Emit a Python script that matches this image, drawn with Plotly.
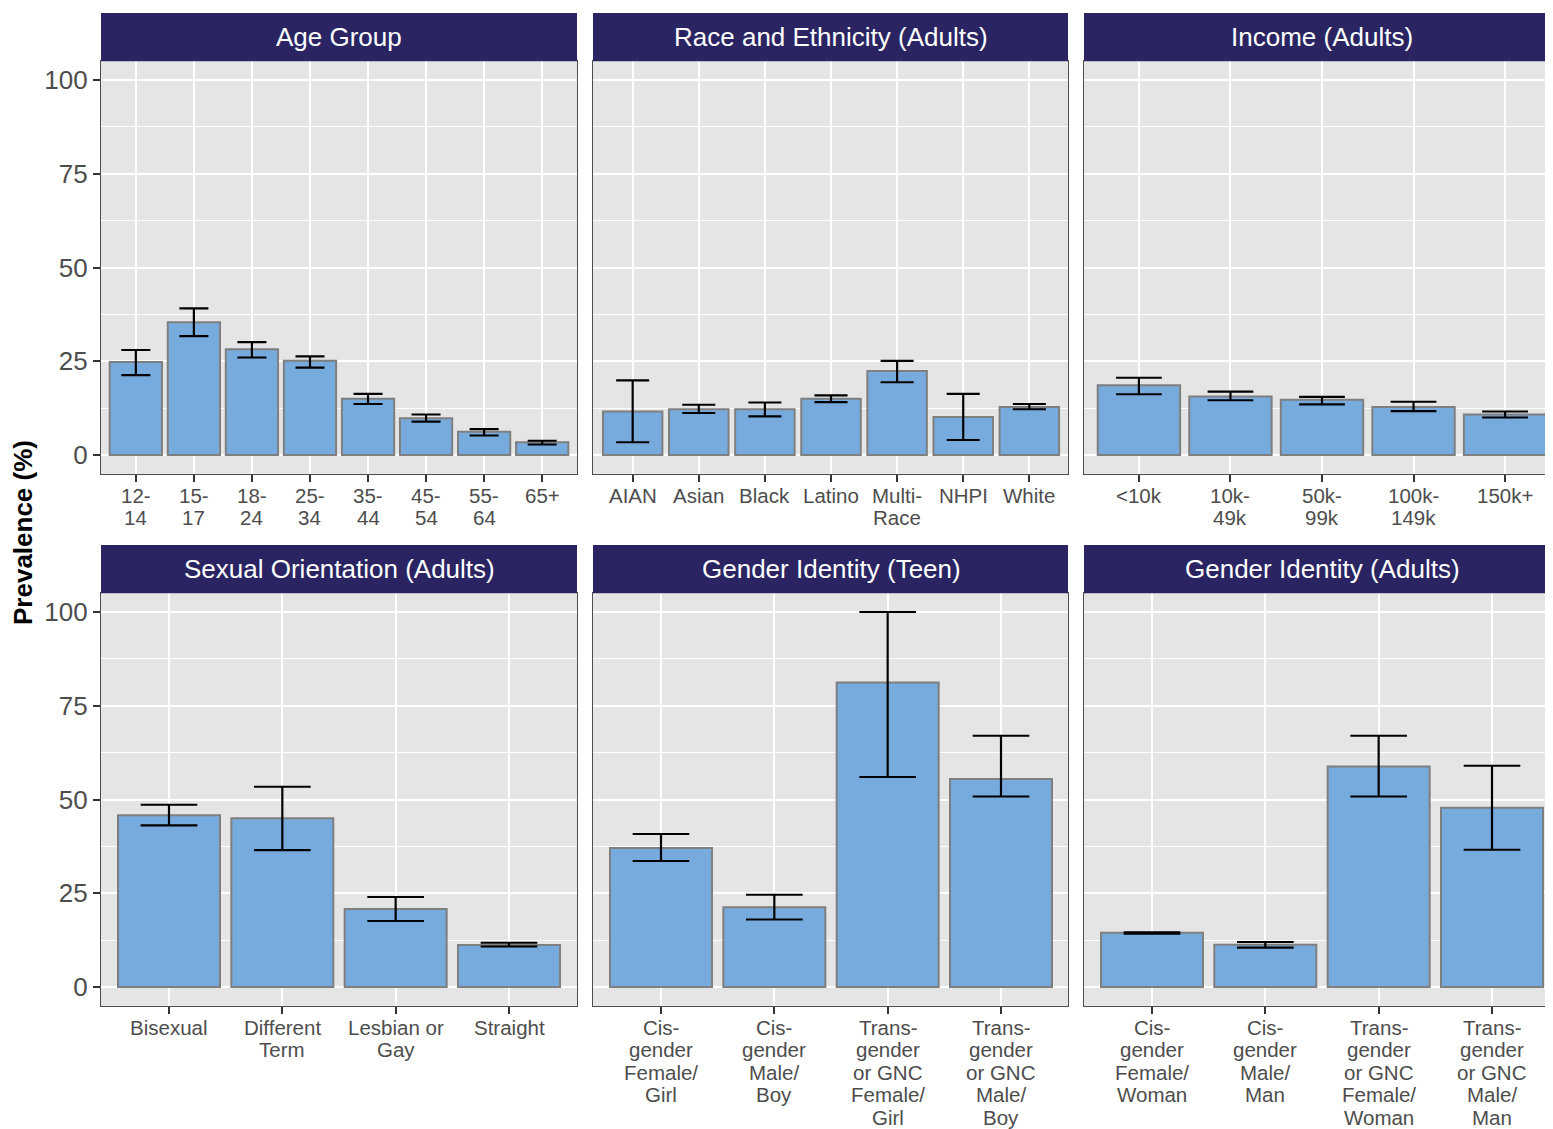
import plotly.graph_objects as go

# ---------------- data ----------------
age_cats = ["12-<br>14", "15-<br>17", "18-<br>24", "25-<br>34", "35-<br>44", "45-<br>54", "55-<br>64", "65+"]
age_val = [24.8, 35.4, 28.2, 25.1, 15.0, 9.8, 6.2, 3.4]
age_lo = [21.3, 31.7, 26.0, 23.3, 13.6, 8.9, 5.2, 2.8]
age_hi = [28.0, 39.1, 30.1, 26.3, 16.3, 10.8, 6.9, 3.8]

race_cats = ["AIAN", "Asian", "Black", "Latino", "Multi-<br>Race", "NHPI", "White"]
race_val = [11.6, 12.2, 12.2, 15.0, 22.4, 10.1, 12.8]
race_lo = [3.4, 11.2, 10.3, 14.1, 19.4, 4.0, 12.2]
race_hi = [19.9, 13.4, 14.0, 15.9, 25.1, 16.3, 13.6]

inc_cats = ["<10k", "10k-<br>49k", "50k-<br>99k", "100k-<br>149k", "150k+"]
inc_val = [18.6, 15.6, 14.7, 12.8, 10.8]
inc_lo = [16.2, 14.6, 13.5, 11.7, 10.0]
inc_hi = [20.6, 16.9, 15.5, 14.2, 11.6]

so_cats = ["Bisexual", "Different<br>Term", "Lesbian or<br>Gay", "Straight"]
so_val = [45.8, 45.0, 20.8, 11.2]
so_lo = [43.1, 36.5, 17.6, 10.8]
so_hi = [48.6, 53.4, 24.0, 11.8]

gt_cats = ["Cis-<br>gender<br>Female/<br>Girl", "Cis-<br>gender<br>Male/<br>Boy",
           "Trans-<br>gender<br>or GNC<br>Female/<br>Girl", "Trans-<br>gender<br>or GNC<br>Male/<br>Boy"]
gt_val = [37.1, 21.3, 81.2, 55.5]
gt_lo = [33.6, 18.0, 56.0, 50.8]
gt_hi = [40.8, 24.6, 100.0, 67.0]

ga_cats = ["Cis-<br>gender<br>Female/<br>Woman", "Cis-<br>gender<br>Male/<br>Man",
           "Trans-<br>gender<br>or GNC<br>Female/<br>Woman", "Trans-<br>gender<br>or GNC<br>Male/<br>Man"]
ga_val = [14.5, 11.3, 58.8, 47.8]
ga_lo = [14.2, 10.5, 50.8, 36.6]
ga_hi = [14.6, 12.0, 67.0, 59.0]

titles = ["Age Group", "Race and Ethnicity (Adults)", "Income (Adults)",
          "Sexual Orientation (Adults)", "Gender Identity (Teen)", "Gender Identity (Adults)"]
y_ticks = [0, 25, 50, 75, 100]
y_title = "Prevalence (%)"

panels = [
    (age_cats, age_val, age_lo, age_hi),
    (race_cats, race_val, race_lo, race_hi),
    (inc_cats, inc_val, inc_lo, inc_hi),
    (so_cats, so_val, so_lo, so_hi),
    (gt_cats, gt_val, gt_lo, gt_hi),
    (ga_cats, ga_val, ga_lo, ga_hi),
]

# ---------------- layout geometry (pixels in the screenshot) ----------------
W, H = 1553, 1129
OFF = 8                      # page body margin of the html page
FW, FH = W - OFF, H - OFF    # figure size so that it ends at the window edge


def px_x(px):
    return (px - OFF) / FW


def px_y(py):
    return 1 - (py - OFF) / FH


PANEL_W = 476.0
col_px = [(101, 577), (593, 1068), (1084, 1553)]
row_px = [(61.25, 473.75), (593.25, 1005.75)]
strip_px = [(13, 61.25), (545, 593.25)]
LABEL_OFFSET = 21.7   # first label line centre below panel bottom
LINE_STEP = 22.4      # label line spacing

FILL = "#77AADD"
OUTLINE = "#7F7F7F"
PANEL_BG = "#E5E5E5"
STRIP = "#2A2562"
TEXT_GREY = "#4D4D4D"
FONT = "Liberation Sans, Arial, Helvetica, sans-serif"

fig = go.Figure()
shapes = []
annotations = []

for i, (cats, val, lo, hi) in enumerate(panels):
    k = i + 1
    r, c = divmod(i, 3)
    x0, x1 = col_px[c]
    y0, y1 = row_px[r]
    n = len(cats)
    unit = PANEL_W / (n + 0.2)
    visible_frac = (x1 - x0) / PANEL_W
    x_end = -0.6 + (n + 0.2) * visible_frac
    err_plus = [h - v for h, v in zip(hi, val)]
    err_minus = [v - l for v, l in zip(val, lo)]
    xa = "x" if k == 1 else f"x{k}"
    ya = "y" if k == 1 else f"y{k}"
    fig.add_trace(go.Bar(
        x=cats, y=val, xaxis=xa, yaxis=ya, width=0.9,
        marker=dict(color=FILL, line=dict(color=OUTLINE, width=2)),
        error_y=dict(type="data", symmetric=False, array=err_plus, arrayminus=err_minus,
                     color="black", thickness=2.2, width=unit * 0.25),
        showlegend=False, hoverinfo="x+y",
    ))
    xkey = "xaxis" if k == 1 else f"xaxis{k}"
    ykey = "yaxis" if k == 1 else f"yaxis{k}"
    fig.layout[xkey] = dict(
        domain=[px_x(x0), min(1.0, px_x(x1))], anchor=ya, type="category",
        categoryorder="array", categoryarray=cats,
        range=[-0.6, x_end], showgrid=True, gridcolor="white", gridwidth=2,
        ticks="outside", ticklen=7, tickwidth=2, tickcolor="#333333",
        showticklabels=False,
        showline=True, mirror=True, linecolor="#4D4D4D", linewidth=1.2,
        zeroline=False, fixedrange=True,
    )
    fig.layout[ykey] = dict(
        domain=[px_y(y1), px_y(y0)], anchor=xa, range=[-5, 105],
        tickvals=y_ticks, showticklabels=(c == 0),
        ticks="outside" if c == 0 else "", ticklen=7, tickwidth=2, tickcolor="#333333",
        tickfont=dict(family=FONT, size=26, color=TEXT_GREY),
        showgrid=True, gridcolor="white", gridwidth=2,
        minor=dict(tickvals=[12.5, 37.5, 62.5, 87.5], showgrid=True,
                   gridcolor="white", gridwidth=1, ticks=""),
        showline=True, mirror=True, linecolor="#4D4D4D", linewidth=1.2,
        zeroline=False, fixedrange=True,
    )
    # category labels (one text per printed line, tight ggplot-like line spacing)
    for cat in cats:
        for j, line in enumerate(cat.split("<br>")):
            annotations.append(dict(
                text=line, xref=xa, yref="paper", x=cat,
                y=px_y(y1 + LABEL_OFFSET + j * LINE_STEP),
                showarrow=False, xanchor="center", yanchor="middle",
                font=dict(family=FONT, size=20.5, color=TEXT_GREY)))
    # facet strip
    s0, s1 = strip_px[r]
    shapes.append(dict(type="rect", xref="paper", yref="paper",
                       x0=px_x(x0), x1=min(1.0, px_x(x1)), y0=px_y(s1), y1=px_y(s0),
                       fillcolor=STRIP, line=dict(width=0), layer="above"))
    annotations.append(dict(text=titles[i], xref="paper", yref="paper",
                            x=px_x(x0 + PANEL_W / 2),
                            y=px_y((s0 + s1) / 2), showarrow=False,
                            xanchor="center", yanchor="middle",
                            font=dict(family=FONT, size=26, color="white")))

annotations.append(dict(text="<b>" + y_title + "</b>", xref="paper", yref="paper",
                        x=px_x(23), y=px_y(533), textangle=-90, showarrow=False,
                        xanchor="center", yanchor="middle", borderpad=0,
                        font=dict(family=FONT, size=26, color="black")))

fig.update_layout(
    width=FW, height=FH, margin=dict(l=0, r=0, t=0, b=0),
    paper_bgcolor="white", plot_bgcolor=PANEL_BG,
    shapes=shapes, annotations=annotations, showlegend=False,
)

fig.write_html("out.html")
